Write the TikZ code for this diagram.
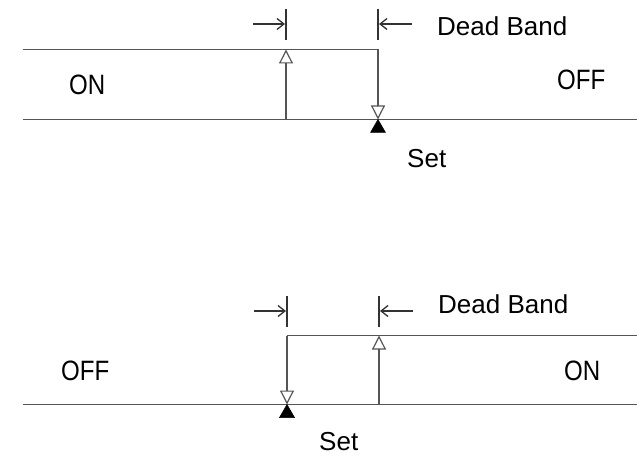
\documentclass[tikz,border=0pt]{standalone}
\usepackage{fontspec}
\setmainfont{Liberation Sans}
\newfontfamily\narrowfont[FakeStretch=0.86]{Liberation Sans}
\usetikzlibrary{arrows.meta}
\definecolor{lc}{HTML}{555555}
\begin{document}
\begin{tikzpicture}[x=1pt,y=-1pt,
  level/.style={draw=lc,line width=1.9pt},
  trans/.style={draw=lc,line width=1.4pt,-{Triangle[open,length=14pt,width=14pt,line width=1.2pt]}},
  setmark/.style={fill=black,draw=black,line width=0.5pt},
  dim/.style={draw=black!80,line width=1.3pt},
  dimarrow/.style={draw=black!80,line width=1.3pt,-{Straight Barb[length=7pt,width=11pt,line width=1.3pt]}},
  lab/.style={inner sep=0pt,anchor=base west,font=\fontsize{26}{28}\selectfont},
  st/.style={inner sep=0pt,anchor=base west,font=\narrowfont\fontsize{28}{30}\selectfont}]
\useasboundingbox (0,0) rectangle (637,454);
% ---------- top diagram ----------
\coordinate (tL1) at (23,49.5);
\coordinate (tR1) at (378,49.5);
\coordinate (tB0) at (23,119.5);
\coordinate (tB1) at (637,119.5);
\coordinate (tUpB) at (286,119.5);
\coordinate (tUpT) at (286,49.5);
\coordinate (tSet) at (378,119.5);
\draw[level] (tL1) -- (tR1);
\draw[level] (tB0) -- (tB1);
\draw[trans] (tUpB) -- (tUpT);
\draw[trans] (tR1) -- (tSet);
\fill[setmark] (tSet) -- ++(-7.5,13) -- ++(15,0) -- cycle;
\coordinate (tT1a) at (286,9); \coordinate (tT1b) at (286,40);
\coordinate (tT2a) at (378,9); \coordinate (tT2b) at (378,40);
\draw[dim] (tT1a) -- (tT1b);
\draw[dim] (tT2a) -- (tT2b);
\coordinate (tA1) at (253,24); \coordinate (tA1e) at (285,24);
\coordinate (tA2) at (412,24); \coordinate (tA2e) at (379,24);
\draw[dimarrow] (tA1) -- (tA1e);
\draw[dimarrow] (tA2) -- (tA2e);
\node[lab] (tdb) at (437,36) {Dead Band};
\node[st] (ton) at (69,95) {ON};
\node[st] (toff) at (557,90) {OFF};
\node[lab] (tset) at (407,168) {Set};
% ---------- bottom diagram ----------
\coordinate (bL0) at (287,335.5);
\coordinate (bL1) at (637,335.5);
\coordinate (bB0) at (23,404.5);
\coordinate (bB1) at (637,404.5);
\coordinate (bSet) at (287,404.5);
\coordinate (bUpB) at (379,404.5);
\coordinate (bUpT) at (379,335.5);
\draw[level] (bL0) -- (bL1);
\draw[level] (bB0) -- (bB1);
\draw[trans] (bL0) -- (bSet);
\draw[trans] (bUpB) -- (bUpT);
\fill[setmark] (bSet) -- ++(-7.5,13) -- ++(15,0) -- cycle;
\coordinate (bT1a) at (287,296); \coordinate (bT1b) at (287,327);
\coordinate (bT2a) at (379,296); \coordinate (bT2b) at (379,327);
\draw[dim] (bT1a) -- (bT1b);
\draw[dim] (bT2a) -- (bT2b);
\coordinate (bA1) at (254,311); \coordinate (bA1e) at (286,311);
\coordinate (bA2) at (413,311); \coordinate (bA2e) at (380,311);
\draw[dimarrow] (bA1) -- (bA1e);
\draw[dimarrow] (bA2) -- (bA2e);
\node[lab] (bdb) at (438,313) {Dead Band};
\node[st] (boff) at (61,380) {OFF};
\node[st] (bon) at (564,380) {ON};
\node[lab] (bset) at (319,450) {Set};
\end{tikzpicture}
\end{document}
